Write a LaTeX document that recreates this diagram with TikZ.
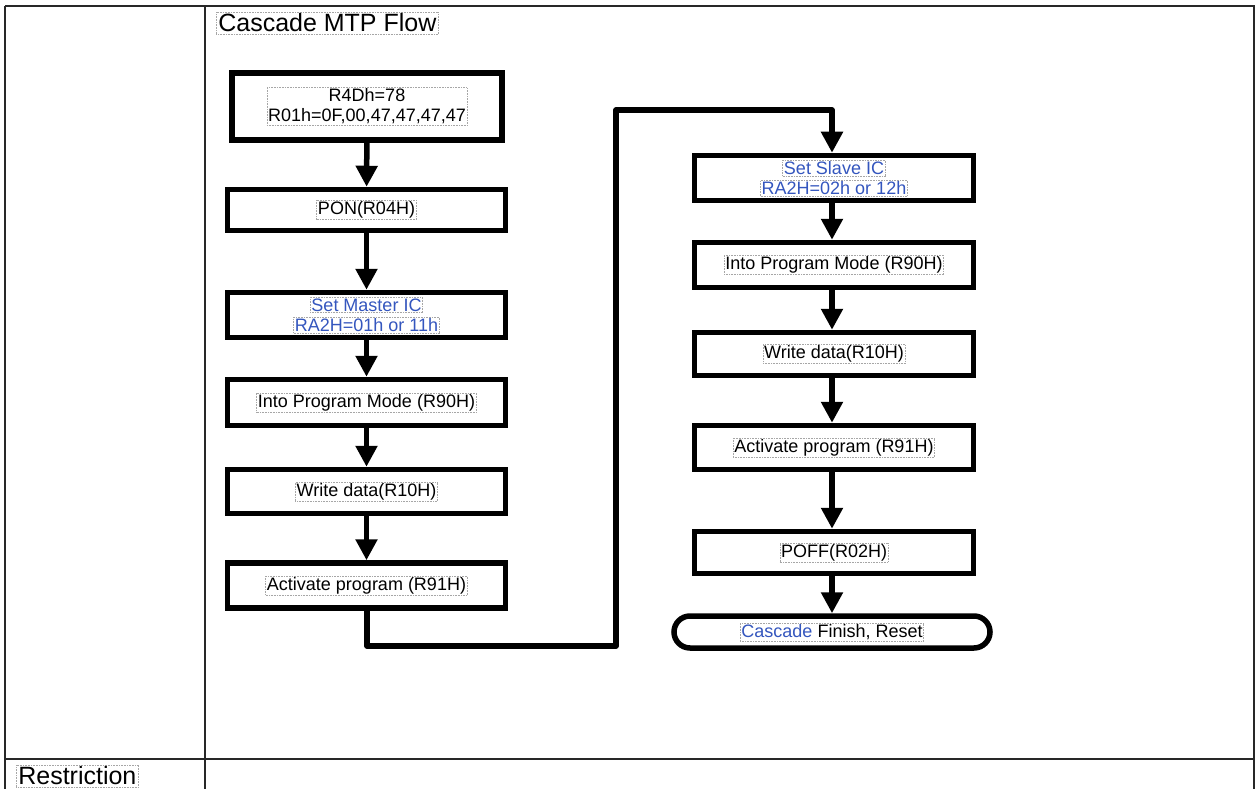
\documentclass[tikz,border=0pt]{standalone}
\usepackage{fontspec}
\setmainfont{Liberation Sans}
\usetikzlibrary{arrows.meta}
\definecolor{icblue}{RGB}{52,86,190}
\definecolor{tblline}{RGB}{40,40,40}
\tikzset{
  x=1pt, y=-1pt,
  flowbox/.style={draw=black, line width=5.5pt, fill=white, rectangle, inner sep=0pt},
  txt/.style={draw=gray!70, densely dotted, line width=0.6pt, inner sep=1.2pt, font=\fontsize{18}{20}\selectfont, align=center},
  bigtxt/.style={draw=gray!70, densely dotted, line width=0.6pt, inner sep=2pt, font=\fontsize{25}{28}\selectfont},
  flow/.style={line width=5.5pt, -{Triangle[width=21pt,length=21pt]}},
  tbl/.style={draw=tblline, line width=1.2pt}
}
\begin{document}
\begin{tikzpicture}
\useasboundingbox (0,0) rectangle (1255,789);
% table
\draw[tbl] (5,6) -- (1255,6);
\draw[tbl] (5,6) -- (5,789);
\draw[tbl] (205,6) -- (205,789);
\draw[tbl] (5,759) -- (1255,759);
\draw[tbl] (1254,6) -- (1254,789);
\node[bigtxt, anchor=west] (title) at (216,23) {Cascade MTP Flow};
\node[bigtxt, anchor=west] (restr) at (16,776) {Restriction};

% left column
\node[flowbox, line width=6pt, minimum width=270pt, minimum height=67pt] (b1) at (367,106.5) {};
\node[txt] (t1) at (b1.center) {R4Dh=78\\R01h=0F,00,47,47,47,47};
\node[flowbox, minimum width=278pt, minimum height=41pt] (b2) at (366.5,210) {};
\node[txt] (t2) at (b2.center) {PON(R04H)};
\node[flowbox, minimum width=278pt, minimum height=45pt] (b3) at (366.5,315) {};
\node[txt, text=icblue] (t3a) at ([yshift=10pt]b3.center) {Set Master IC};
\node[txt, text=icblue] (t3b) at ([yshift=-10pt]b3.center) {RA2H=01h or 11h};
\node[flowbox, minimum width=278pt, minimum height=46pt] (b4) at (366.5,402.5) {};
\node[txt] (t4) at (b4.center) {Into Program Mode (R90H)};
\node[flowbox, minimum width=278pt, minimum height=44pt] (b5) at (366.5,491.5) {};
\node[txt] (t5) at (b5.center) {Write data(R10H)};
\node[flowbox, minimum width=278pt, minimum height=45pt] (b6) at (366.5,585.5) {};
\node[txt] (t6) at (b6.center) {Activate program (R91H)};

% right column
\node[flowbox, minimum width=279pt, minimum height=45pt] (c1) at (834,178) {};
\node[txt, text=icblue] (s1a) at ([yshift=10pt]c1.center) {Set Slave IC};
\node[txt, text=icblue] (s1b) at ([yshift=-10pt]c1.center) {RA2H=02h or 12h};
\node[flowbox, minimum width=279pt, minimum height=45pt] (c2) at (834,265) {};
\node[txt] (s2) at (c2.center) {Into Program Mode (R90H)};
\node[flowbox, minimum width=279pt, minimum height=43pt] (c3) at (834,354) {};
\node[txt] (s3) at (c3.center) {Write data(R10H)};
\node[flowbox, minimum width=279pt, minimum height=44pt] (c4) at (834,447.5) {};
\node[txt] (s4) at (c4.center) {Activate program (R91H)};
\node[flowbox, minimum width=279pt, minimum height=42pt] (c5) at (834,552.5) {};
\node[txt] (s5) at (c5.center) {POFF(R02H)};
\node[flowbox, rounded corners=16pt, minimum width=316pt, minimum height=32pt] (c6) at (832,632) {};
\node[txt] (s6) at (c6.center) {\textcolor{icblue}{Cascade} Finish, Reset};

% connectors
\draw[flow] (b1) -- (b2);
\draw[flow] (b2) -- (b3);
\draw[flow] (b3) -- (b4);
\draw[flow] (b4) -- (b5);
\draw[flow] (b5) -- (b6);
\coordinate (k1) at (367,646);
\coordinate (k2) at (616,646);
\coordinate (k3) at (616,110);
\coordinate (k4) at (832,110);
\draw[flow, line join=round] (b6.south -| k1) -- (k1) -- (k2) -- (k3) -- (k4) -- (k4 |- c1.north);
\draw[flow] (c1.south -| k4) -- (c2.north -| k4);
\draw[flow] (c2.south -| k4) -- (c3.north -| k4);
\draw[flow] (c3.south -| k4) -- (c4.north -| k4);
\draw[flow] (c4.south -| k4) -- (c5.north -| k4);
\draw[flow] (c5.south -| k4) -- (c6.north -| k4);
\end{tikzpicture}
\end{document}
